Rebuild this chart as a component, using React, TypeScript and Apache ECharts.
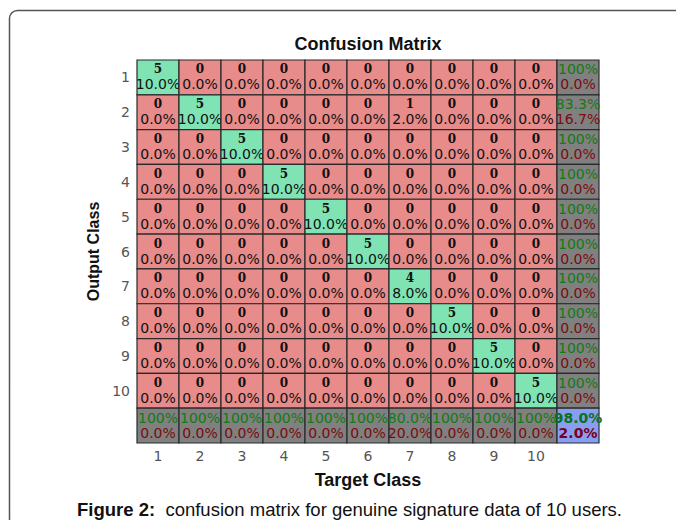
import React, { useEffect, useRef } from "react";
import * as echarts from "echarts";

const classes = ["1", "2", "3", "4", "5", "6", "7", "8", "9", "10"];
const counts = [
  [5, 0, 0, 0, 0, 0, 0, 0, 0, 0],
  [0, 5, 0, 0, 0, 0, 1, 0, 0, 0],
  [0, 0, 5, 0, 0, 0, 0, 0, 0, 0],
  [0, 0, 0, 5, 0, 0, 0, 0, 0, 0],
  [0, 0, 0, 0, 5, 0, 0, 0, 0, 0],
  [0, 0, 0, 0, 0, 5, 0, 0, 0, 0],
  [0, 0, 0, 0, 0, 0, 4, 0, 0, 0],
  [0, 0, 0, 0, 0, 0, 0, 5, 0, 0],
  [0, 0, 0, 0, 0, 0, 0, 0, 5, 0],
  [0, 0, 0, 0, 0, 0, 0, 0, 0, 5],
];
const totalSamples = 50;
const rowCorrect = ["100%", "83.3%", "100%", "100%", "100%", "100%", "100%", "100%", "100%", "100%"];
const rowError = ["0.0%", "16.7%", "0.0%", "0.0%", "0.0%", "0.0%", "0.0%", "0.0%", "0.0%", "0.0%"];
const colCorrect = ["100%", "100%", "100%", "100%", "100%", "100%", "80.0%", "100%", "100%", "100%"];
const colError = ["0.0%", "0.0%", "0.0%", "0.0%", "0.0%", "0.0%", "20.0%", "0.0%", "0.0%", "0.0%"];
const overallCorrect = "98.0%";
const overallError = "2.0%";

const GREEN = "#7fe3b4";
const RED = "#e78b8b";
const GRAY = "#808080";
const BLUE = "#879ff0";
const TXT_GREEN = "#127a12";
const TXT_RED = "#7a0c0c";

type Cell = {
  x: number;
  y: number;
  fill: string;
  top: string;
  bottom: string;
  topColor: string;
  bottomColor: string;
  kind: "count" | "summary" | "total";
};

function buildCells(): Cell[] {
  const cells: Cell[] = [];
  for (let i = 0; i < 10; i++) {
    for (let j = 0; j < 10; j++) {
      const c = counts[i][j];
      cells.push({
        x: j,
        y: i,
        fill: i === j ? GREEN : RED,
        top: String(c),
        bottom: ((c / totalSamples) * 100).toFixed(1) + "%",
        topColor: "#111",
        bottomColor: "#111",
        kind: "count",
      });
    }
    cells.push({
      x: 10, y: i, fill: GRAY, top: rowCorrect[i], bottom: rowError[i],
      topColor: TXT_GREEN, bottomColor: TXT_RED, kind: "summary",
    });
  }
  for (let j = 0; j < 10; j++) {
    cells.push({
      x: j, y: 10, fill: GRAY, top: colCorrect[j], bottom: colError[j],
      topColor: TXT_GREEN, bottomColor: TXT_RED, kind: "summary",
    });
  }
  cells.push({
    x: 10, y: 10, fill: BLUE, top: overallCorrect, bottom: overallError,
    topColor: "#0d6f1a", bottomColor: "#7a0020", kind: "total",
  });
  return cells;
}

export default function App() {
  const ref = useRef<HTMLDivElement>(null);
  useEffect(() => {
    if (!ref.current) return;
    const chart = echarts.init(ref.current, undefined, { renderer: "svg" });
    const cells = buildCells();
    const axisCats = [...classes, ""];
    const pctFont = "14px 'DejaVu Sans', sans-serif";
    const boldSans = "'Liberation Sans', Arial, sans-serif";
    chart.setOption({
      animation: false,
      backgroundColor: "#ffffff",
      grid: { left: 137, top: 60, width: 462, height: 383 },
      xAxis: {
        type: "category",
        data: axisCats,
        axisLine: { show: false },
        axisTick: { show: false },
        splitLine: { show: false },
        axisLabel: { color: "#555", fontSize: 14, fontFamily: "'DejaVu Sans', sans-serif", margin: 6 },
        name: "Target Class",
        nameLocation: "middle",
        nameGap: 28,
        nameTextStyle: { color: "#111", fontSize: 18, fontWeight: "bold", fontFamily: boldSans },
      },
      yAxis: {
        type: "category",
        data: axisCats,
        inverse: true,
        axisLine: { show: false },
        axisTick: { show: false },
        splitLine: { show: false },
        axisLabel: { color: "#555", fontSize: 14, fontFamily: "'DejaVu Sans', sans-serif", margin: 7 },
        name: "Output Class",
        nameLocation: "middle",
        nameGap: 33,
        nameRotate: 90,
        nameTextStyle: { color: "#111", fontSize: 16, fontWeight: "bold", fontFamily: boldSans },
      },
      graphic: [
        {
          type: "rect",
          shape: { x: 9.5, y: 10.5, width: 720, height: 560, r: 8 },
          style: { fill: "none", stroke: "#555", lineWidth: 1.5 },
          silent: true,
        },
        {
          type: "text",
          x: 368,
          y: 44,
          style: {
            text: "Confusion Matrix",
            fill: "#111",
            font: "bold 18px " + boldSans,
            align: "center",
            verticalAlign: "middle",
          },
        },
        {
          type: "text",
          x: 77,
          y: 509,
          style: {
            text: "{b|Figure 2:}  confusion matrix for genuine signature data of 10 users.",
            fill: "#111",
            font: "18.5px " + boldSans,
            verticalAlign: "middle",
            rich: {
              b: { font: "bold 18.5px " + boldSans, fill: "#111" },
            },
          },
        },
      ],
      series: [
        {
          type: "custom",
          coordinateSystem: "cartesian2d",
          data: cells.map((c) => [c.x, c.y]),
          renderItem: (params: any, api: any) => {
            const cell = cells[params.dataIndex];
            const p = api.coord([api.value(0), api.value(1)]);
            const s = api.size([1, 1]);
            const topFont =
              cell.kind === "count"
                ? "bold 12px 'DejaVu Serif', serif"
                : cell.kind === "total"
                ? "bold 14px 'DejaVu Sans', sans-serif"
                : pctFont;
            const bottomFont = cell.kind === "total" ? "bold 14px 'DejaVu Sans', sans-serif" : pctFont;
            return {
              type: "group",
              children: [
                {
                  type: "rect",
                  shape: { x: p[0] - s[0] / 2, y: p[1] - s[1] / 2, width: s[0], height: s[1] },
                  style: { fill: cell.fill, stroke: "#2a2a2a", lineWidth: 1.2 },
                },
                {
                  type: "text",
                  x: p[0],
                  y: p[1] - 8,
                  style: {
                    text: cell.top,
                    fill: cell.topColor,
                    font: topFont,
                    align: "center",
                    verticalAlign: "middle",
                  },
                },
                {
                  type: "text",
                  x: p[0],
                  y: p[1] + 7,
                  style: {
                    text: cell.bottom,
                    fill: cell.bottomColor,
                    font: bottomFont,
                    align: "center",
                    verticalAlign: "middle",
                  },
                },
              ],
            };
          },
        },
      ],
    });
    return () => chart.dispose();
  }, []);
  return (
    <div
      ref={ref}
      style={{ position: "fixed", left: 0, top: 0, width: 676, height: 520 }}
    />
  );
}
